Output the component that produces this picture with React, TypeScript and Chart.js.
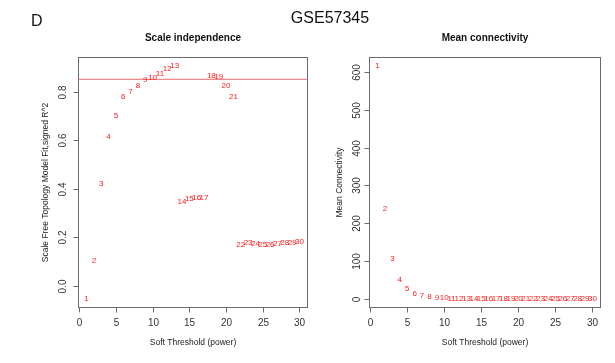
import React, { useEffect, useRef } from "react";
import { Chart, registerables } from "chart.js";

Chart.register(...registerables);

// ---- data ----
const powers = [1, 2, 3, 4, 5, 6, 7, 8, 9, 10, 11, 12, 13, 14, 15, 16, 17, 18, 19, 20, 21, 22, 23, 24, 25, 26, 27, 28, 29, 30];
const scaleFreeFit = [
  -0.054, 0.104, 0.42, 0.612, 0.70, 0.777, 0.80, 0.822, 0.848, 0.858,
  0.873, 0.895, 0.904, 0.344, 0.357, 0.361, 0.36, 0.863, 0.862, 0.822,
  0.778, 0.169, 0.176, 0.173, 0.169, 0.170, 0.173, 0.175, 0.176, 0.180,
];
const meanConnectivity = [
  615, 237, 105, 50, 25.7, 13, 9, 4, 2, 1.5,
  1.2, 1.0, 0.9, 0.8, 0.7, 0.6, 0.55, 0.5, 0.45, 0.4,
  0.38, 0.35, 0.33, 0.31, 0.3, 0.29, 0.28, 0.27, 0.26, 0.25,
];
const xTickValues = [0, 5, 10, 15, 20, 25, 30];
const xTickLabels = ["0", "5", "10", "15", "20", "25", "30"];
const fitTickValues = [0.0, 0.2, 0.4, 0.6, 0.8];
const fitTickLabels = ["0.0", "0.2", "0.4", "0.6", "0.8"];
const kTickValues = [0, 100, 200, 300, 400, 500, 600];
const kTickLabels = ["0", "100", "200", "300", "400", "500", "600"];
const fitCutoff = 0.85;

const FONT = '"Liberation Sans", Arial, Helvetica, sans-serif';

function extendRange(vals: number[]) {
  const mn = Math.min(...vals);
  const mx = Math.max(...vals);
  const r = mx - mn;
  return [mn - 0.04 * r, mx + 0.04 * r];
}

type PanelProps = {
  width: number;
  pad: { left: number; right: number; top: number; bottom: number };
  xs: number[];
  ys: number[];
  title: string;
  xTitle: string;
  yTitle: string;
  yTicks: number[];
  yTickLabels: string[];
  yLabelOffset: number;
  yTitleOffset: number;
  hline?: number;
};

function Panel(p: PanelProps) {
  const ref = useRef<HTMLCanvasElement | null>(null);
  useEffect(() => {
    if (!ref.current) return;
    const [xmin, xmax] = extendRange(p.xs);
    const [ymin, ymax] = extendRange(p.ys);
    const plugin = {
      id: "rpanel",
      afterDatasetsDraw(chart: any) {
        const { ctx, chartArea: a } = chart;
        const xs = chart.scales.x;
        const ys = chart.scales.y;
        ctx.save();
        const l = Math.round(a.left) + 0.5;
        const t = Math.round(a.top) + 0.5;
        const r = Math.round(a.right) - 0.5;
        const b = Math.round(a.bottom) - 0.5;
        // box
        ctx.strokeStyle = "#6a6a6a";
        ctx.lineWidth = 1;
        ctx.strokeRect(l, t, r - l, b - t);
        // cutoff line
        if (p.hline !== undefined) {
          const py = ys.getPixelForValue(p.hline);
          ctx.strokeStyle = "#f08a8a";
          ctx.lineWidth = 1.4;
          ctx.beginPath();
          ctx.moveTo(l, py);
          ctx.lineTo(r, py);
          ctx.stroke();
        }
        // point labels
        const meta = chart.getDatasetMeta(0);
        ctx.fillStyle = "#ff1a1a";
        ctx.font = `8px ${FONT}`;
        ctx.textAlign = "center";
        ctx.textBaseline = "middle";
        meta.data.forEach((el: any, i: number) => {
          ctx.fillText(String(p.xs[i]), el.x, el.y);
        });
        // x ticks
        ctx.strokeStyle = "#6a6a6a";
        ctx.lineWidth = 1;
        ctx.fillStyle = "#333";
        ctx.font = `10px ${FONT}`;
        ctx.textAlign = "center";
        ctx.textBaseline = "middle";
        xTickValues.forEach((v, i) => {
          const px = Math.round(xs.getPixelForValue(v)) + 0.5;
          ctx.beginPath();
          ctx.moveTo(px, b);
          ctx.lineTo(px, b + 5);
          ctx.stroke();
          ctx.fillText(xTickLabels[i], px, b + 16);
        });
        // y ticks
        p.yTicks.forEach((v, i) => {
          const py = Math.round(ys.getPixelForValue(v)) + 0.5;
          ctx.beginPath();
          ctx.moveTo(l - 5, py);
          ctx.lineTo(l, py);
          ctx.stroke();
          ctx.save();
          ctx.translate(l - p.yLabelOffset, py);
          ctx.rotate(-Math.PI / 2);
          ctx.fillText(p.yTickLabels[i], 0, 0);
          ctx.restore();
        });
        // axis titles
        ctx.font = `8.5px ${FONT}`;
        ctx.fillStyle = "#222";
        ctx.fillText(p.xTitle, (a.left + a.right) / 2, 343);
        ctx.save();
        ctx.translate(l - p.yTitleOffset, (a.top + a.bottom) / 2);
        ctx.rotate(-Math.PI / 2);
        ctx.fillText(p.yTitle, 0, 0);
        ctx.restore();
        // panel title
        ctx.font = `bold 10px ${FONT}`;
        ctx.fillStyle = "#111";
        ctx.fillText(p.title, (a.left + a.right) / 2, 38);
        ctx.restore();
      },
    };
    const chart = new Chart(ref.current, {
      type: "scatter",
      data: {
        datasets: [
          {
            data: p.xs.map((x, i) => ({ x, y: p.ys[i] })),
            pointRadius: 0,
            pointHoverRadius: 0,
          },
        ],
      },
      options: {
        responsive: false,
        animation: false,
        devicePixelRatio: 1,
        layout: { padding: p.pad },
        plugins: { legend: { display: false }, tooltip: { enabled: false } },
        events: [],
        scales: {
          x: { type: "linear", min: xmin, max: xmax, display: false },
          y: { type: "linear", min: ymin, max: ymax, display: false },
        },
      },
      plugins: [plugin],
    });
    return () => chart.destroy();
  }, []);
  return <canvas ref={ref} width={p.width} height={363} style={{ width: p.width, height: 363, display: "block" }} />;
}

export default function App() {
  return (
    <div style={{ position: "fixed", left: 0, top: 0, width: 615, height: 363, background: "#fff", overflow: "hidden" }}>
      <div style={{ position: "absolute", left: 0, top: 0, display: "flex" }}>
        <Panel
          width={310}
          pad={{ left: 78, right: 2, top: 57, bottom: 55 }}
          xs={powers}
          ys={scaleFreeFit}
          title="Scale independence"
          xTitle="Soft Threshold (power)"
          yTitle="Scale Free Topology Model Fit,signed R^2"
          yTicks={fitTickValues}
          yTickLabels={fitTickLabels}
          yLabelOffset={15}
          yTitleOffset={33}
          hline={fitCutoff}
        />
        <Panel
          width={305}
          pad={{ left: 59, right: 14, top: 57, bottom: 55 }}
          xs={powers}
          ys={meanConnectivity}
          title="Mean connectivity"
          xTitle="Soft Threshold (power)"
          yTitle="Mean Connectivity"
          yTicks={kTickValues}
          yTickLabels={kTickLabels}
          yLabelOffset={12}
          yTitleOffset={30}
        />
      </div>
      <div style={{ position: "absolute", left: 31, top: 11, font: `16px ${FONT}`, color: "#111", lineHeight: "20px" }}>D</div>
      <div style={{ position: "absolute", left: 230, width: 200, top: 8, textAlign: "center", font: `16px ${FONT}`, color: "#111", lineHeight: "20px" }}>GSE57345</div>
    </div>
  );
}
